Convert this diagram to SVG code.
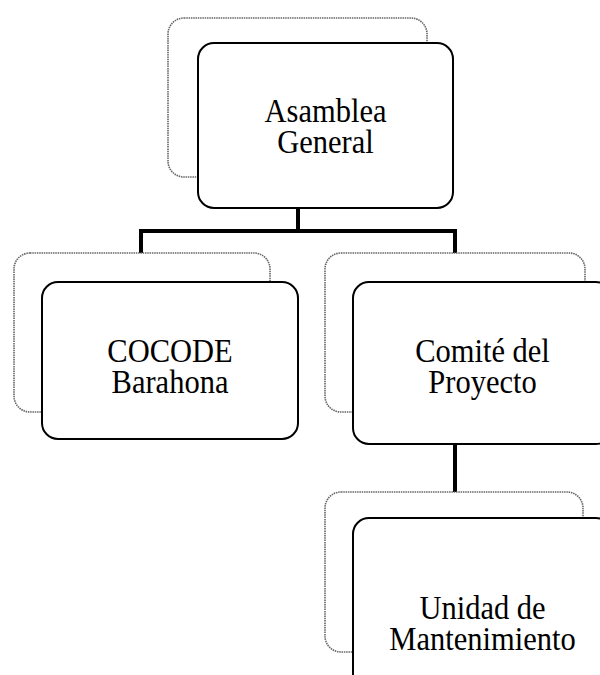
<svg xmlns="http://www.w3.org/2000/svg" width="600" height="675" viewBox="0 0 600 675">
<style>
.back{fill:#fff;stroke:#666;stroke-width:1.6;stroke-dasharray:1.5 0.8}
.front{fill:#fff;stroke:#000;stroke-width:2}
.conn{fill:none;stroke:#000;stroke-width:4;stroke-linecap:square}
.t{font-family:"Liberation Serif","Times New Roman",serif;font-size:30.5px;fill:#000;text-anchor:middle}
</style>
<rect width="600" height="675" fill="#fff"/>
<g id="connectors">
<polyline class="conn" points="298,209 298,231"/>
<polyline class="conn" points="141,252 141,231 455,231 455,252"/>
<polyline class="conn" points="455,445 455,491"/>
</g>
<g id="asamblea">
<rect class="back" x="168" y="18" width="259" height="159" rx="16"/>
<rect class="front" x="198" y="43" width="255" height="165" rx="16"/>
<text class="t" transform="translate(325.5,122) scale(1,1.08)"><tspan x="0" y="0">Asamblea</tspan><tspan x="0" dy="28.7">General</tspan></text>
</g>
<g id="cocode">
<rect class="back" x="14" y="253" width="256" height="159" rx="16"/>
<rect class="front" x="42" y="282" width="256" height="157" rx="16"/>
<text class="t" transform="translate(170,362) scale(1,1.08)"><tspan x="0" y="0">COCODE</tspan><tspan x="0" dy="28.7">Barahona</tspan></text>
</g>
<g id="comite">
<rect class="back" x="325" y="253" width="260" height="159" rx="16"/>
<rect class="front" x="353" y="282" width="259" height="162" rx="16"/>
<text class="t" transform="translate(482.5,362) scale(1,1.08)"><tspan x="0" y="0">Comité del</tspan><tspan x="0" dy="28.7">Proyecto</tspan></text>
</g>
<g id="unidad">
<rect class="back" x="325" y="492" width="258" height="160" rx="16"/>
<rect class="front" x="353" y="518" width="259" height="210" rx="16"/>
<text class="t" transform="translate(482.5,619) scale(1,1.08)"><tspan x="0" y="0">Unidad de</tspan><tspan x="0" dy="28.7">Mantenimiento</tspan></text>
</g>
</svg>
